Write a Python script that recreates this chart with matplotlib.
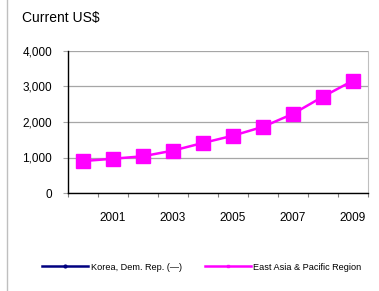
import matplotlib
matplotlib.use('Agg')
import matplotlib.pyplot as plt
import matplotlib.ticker as tck
from matplotlib.lines import Line2D

plt.rcParams['font.family'] = ['Liberation Sans', 'DejaVu Sans']

# --- Data ---
years = ['2000', '2001', '2002', '2003', '2004', '2005', '2006', '2007', '2008', '2009']
east_asia = [900, 965, 1035, 1195, 1410, 1615, 1865, 2230, 2715, 3165]
korea = []  # no data (—)
y_ticks = [0, 1000, 2000, 3000, 4000]
y_labels = ['0', '1,000', '2,000', '3,000', '4,000']

W, H = 379, 291
fig = plt.figure(figsize=(W / 100, H / 100), dpi=100)
ax = fig.add_axes([68 / W, 1 - 193 / H, 300 / W, 142 / H])

x = list(range(len(years)))
ax.plot(x, east_asia, color='#FF00FF', linewidth=1.8, marker='s', markersize=9.5,
        clip_on=False, zorder=3)

# --- Y axis ---
ax.set_ylim(0, 4000)
ax.set_yticks(y_ticks)
ax.set_yticklabels(y_labels)
ax.grid(axis='y', color='#A6A6A6', linewidth=0.9)
ax.set_axisbelow(True)
ax.tick_params(axis='y', length=3.5, color='#A6A6A6', labelsize=8.5, pad=8)

# --- X axis ---
ax.set_xlim(-0.5, len(years) - 0.5)
ax.xaxis.set_major_locator(tck.FixedLocator([i - 0.5 for i in range(len(years) + 1)]))
ax.xaxis.set_major_formatter(tck.NullFormatter())
ax.xaxis.set_minor_locator(tck.FixedLocator(x[1::2]))
ax.xaxis.set_minor_formatter(tck.FixedFormatter(years[1::2]))
ax.tick_params(axis='x', which='major', length=3, color='#808080', width=0.8)
ax.tick_params(axis='x', which='minor', length=0, labelsize=8.5, pad=14)

for side in ['left', 'bottom']:
    ax.spines[side].set_color('black')
    ax.spines[side].set_linewidth(1.0)
ax.spines['right'].set_color('#BFBFBF')
ax.spines['top'].set_visible(False)

fig.text(22 / W, 1 - 18 / H, 'Current US$', fontsize=10, va='center', ha='left')

# --- Legend ---
handles = [Line2D([], [], color='#000080', linewidth=1.8, marker='o', markersize=2),
           Line2D([], [], color='#FF00FF', linewidth=1.8, marker='s', markersize=2)]
fig.legend(handles, ['Korea, Dem. Rep. (\u2014)', 'East Asia & Pacific Region'],
           loc='center', bbox_to_anchor=(202 / W, 1 - 267 / H), ncol=2, frameon=False,
           fontsize=6.6, handlelength=5, handletextpad=0.3, columnspacing=2.5)

# left border line
fig.add_artist(Line2D([7 / W, 7 / W], [0, 1], color='#BFBFBF', linewidth=1.0))

fig.savefig('out.png', dpi=100)
